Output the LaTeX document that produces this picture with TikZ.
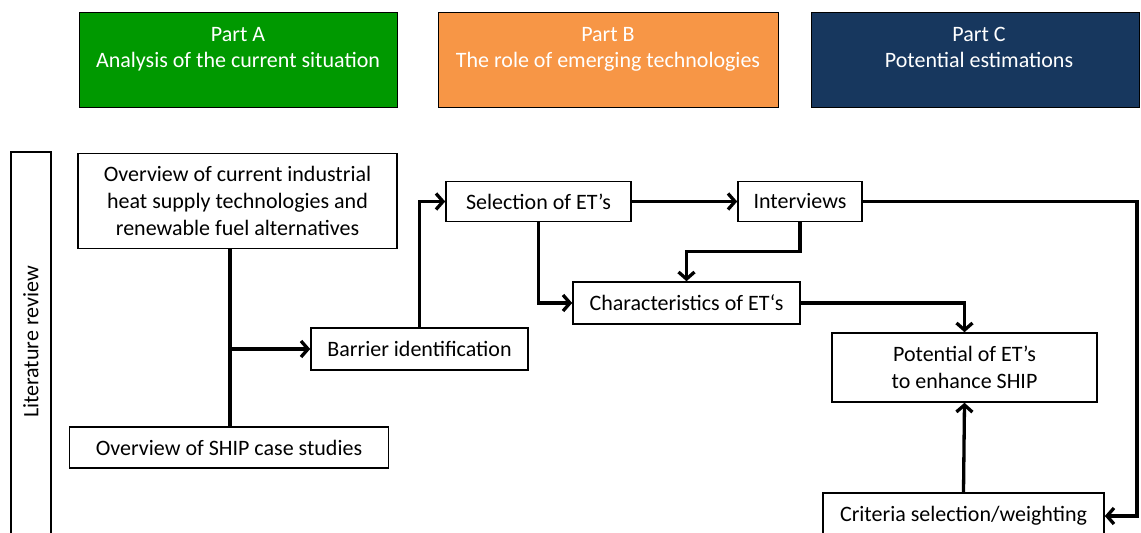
\documentclass[tikz,border=0pt]{standalone}
\usepackage{fontspec}
\setmainfont{Carlito}
\usetikzlibrary{arrows.meta}
\definecolor{partA}{RGB}{0,153,0}
\definecolor{partB}{RGB}{247,150,70}
\definecolor{partC}{RGB}{23,55,94}
\begin{document}
\begin{tikzpicture}[x=1pt,y=-1pt,
  font=\fontsize{22}{27}\selectfont,
  part/.style={draw=black, line width=1pt, inner sep=0pt},
  parttext/.style={text=white, align=center, inner sep=0pt, font=\fontsize{22}{26}\selectfont},
  box/.style={draw=black, line width=1.6pt, fill=white, align=center, inner sep=0pt},
  link/.style={line width=3.3pt, line cap=rect},
  arr/.style={link, -{Straight Barb[length=7pt,width=16pt]}}]
\useasboundingbox (0,0) rectangle (1141,533);
\clip (0,0) rectangle (1141,533);

% header bands
\node[part, fill=partA, minimum width=318pt, minimum height=95pt] (pa) at (238,59.5) {};
\node[parttext] (pat) at (238,49) {\strut Part A\\\strut Analysis of the current situation};
\node[part, fill=partB, minimum width=340pt, minimum height=95pt] (pb) at (608,59.5) {};
\node[parttext] (pbt) at (608,49) {\strut Part B\\\strut The role of emerging technologies};
\node[part, fill=partC, minimum width=328pt, minimum height=95pt] (pc) at (975,59.5) {};
\node[parttext] (pct) at (979,49) {\strut Part C\\\strut Potential estimations};

% side band
\node[box, line width=1.5pt, minimum width=393pt, minimum height=40pt, rotate=90] (lit) at (31,348.5) {};
\node[rotate=90, inner sep=0pt] (litt) at (31,342) {Literature review};

% process boxes
\node[box, minimum width=319pt, minimum height=95pt] (ovr) at (237.5,201)
  {Overview of current industrial\\heat supply technologies and\\renewable fuel alternatives};
\node[box, minimum width=319pt, minimum height=41pt] (ship) at (229,447.5) {Overview of SHIP case studies};
\node[box, minimum width=217pt, minimum height=42pt] (bar) at (419.5,349) {Barrier identification};
\node[box, minimum width=185pt, minimum height=40pt] (sel) at (538.5,201.5) {Selection of ET’s};
\node[box, minimum width=124pt, minimum height=40pt] (int) at (800,201.5) {Interviews};
\node[box, minimum width=227pt, minimum height=42pt] (char) at (686.5,303) {Characteristics of ET‘s};
\node[box, minimum width=265pt, minimum height=69pt] (pot) at (964.5,367.5) {Potential of ET’s\\to enhance SHIP};
\node[box, minimum width=281pt, minimum height=46pt] (crit) at (963.5,516) {Criteria selection/weighting};

% connectors
\coordinate (trunk) at (230,349);
\coordinate (rt) at (1137,0);
\draw[link] (trunk |- ovr.south) -- (trunk |- ship.north);
\draw[arr] (trunk) -- (bar.west);
\draw[arr] (bar.north) |- (sel.west);
\draw[arr] (sel.east) -- (int.west);
\draw[arr] (sel.south) |- (char.west);
\draw[arr] (int.south) -- ++(0,29) -| (char.north);
\draw[arr] (int.east) -- (int.east -| rt) -- (rt |- crit.east) -- (crit.east);
\draw[arr] (char.east) -| (pot.north);
\draw[arr] (crit.north) -- (pot.south);
\end{tikzpicture}
\end{document}
